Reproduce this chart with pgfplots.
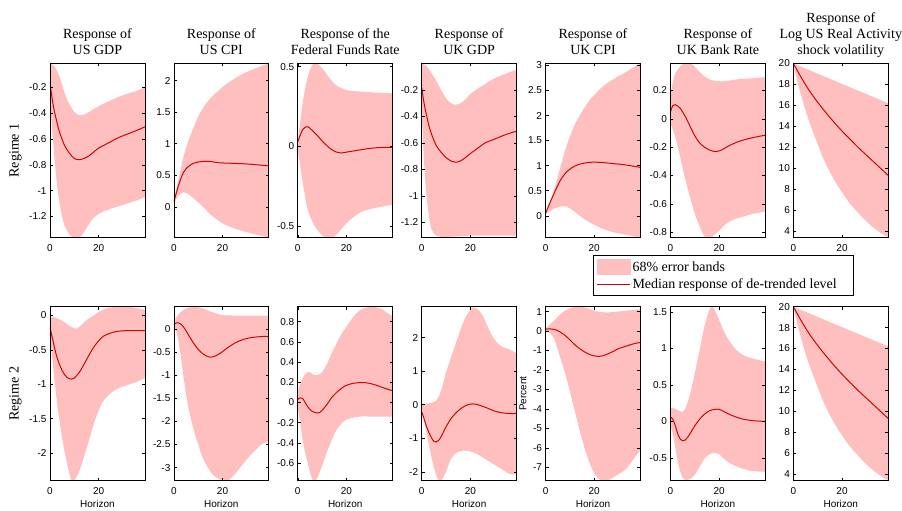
\documentclass[border=0pt]{standalone}
\usepackage{fontspec}
\setmainfont{Liberation Serif}
\setsansfont{Liberation Sans}
\usepackage{pgfplots}
\pgfplotsset{compat=1.18}
\usepgfplotslibrary{fillbetween}

\definecolor{bandc}{RGB}{255,191,191}
\definecolor{medc}{RGB}{205,5,5}

\pgfplotsset{
  irf/.style={
    scale only axis, width=95pt, anchor=south west,
    xmin=0, xmax=39, xtick={0,20},
    axis on top,
    axis line style={line width=0.7pt},
    tick style={black, line width=0.5pt}, major tick length=3pt,
    ticklabel style={font=\sffamily\fontsize{10}{10}\selectfont},
    /pgf/number format/assume math mode=true,
    xticklabel style={yshift=-3pt},
    scaled y ticks=false,
    yticklabel style={/pgf/number format/fixed},
    title style={font=\rmfamily\fontsize{14}{16}\selectfont, align=center,
      at={(0.5,1)}, anchor=south, inner sep=0pt, yshift=2pt, text depth=0pt},
  },
  toprow/.style={height=175pt},
  botrow/.style={height=174pt},
}

% upper edge, lower edge, median
\newcommand{\band}[3]{%
  \addplot[name path=hi, draw=none, smooth] coordinates {#1};
  \addplot[name path=lo, draw=none, smooth] coordinates {#2};
  \addplot[fill=bandc, draw=none] fill between[of=hi and lo];
  \addplot[medc, line width=1pt, smooth] coordinates {#3};
}

\begin{document}
\begin{tikzpicture}
\path (0,0) rectangle (902pt,511pt);

%%%%%%%%%%%%%%%% Regime 1
\begin{axis}[irf, toprow, at={(50pt,273pt)},
  ymin=-1.365, ymax=-0.01, ytick={-1.2,-1,-0.8,-0.6,-0.4,-0.2},
  title={Response of\\US GDP},
  ylabel={Regime 1},
  ylabel style={at={(axis description cs:-0.363,0.5)}, anchor=center, font=\rmfamily\fontsize{14}{16}\selectfont}]
\band{(0,-0.01)(2,-0.04)(4,-0.12)(6,-0.24)(8,-0.33)(10,-0.39)(12,-0.415)(14,-0.41)(17,-0.38)(20,-0.345)(25,-0.30)(30,-0.26)(35,-0.23)(39,-0.20)}
{(0,-0.3)(1,-0.55)(2,-0.78)(3,-0.97)(4,-1.1)(5,-1.2)(6,-1.27)(8,-1.34)(10,-1.37)(12,-1.37)(14,-1.32)(16,-1.26)(18,-1.21)(21,-1.17)(25,-1.14)(30,-1.11)(35,-1.08)(39,-1.05)}
{(0,-0.16)(1,-0.30)(2,-0.40)(3,-0.48)(4,-0.55)(6,-0.65)(8,-0.71)(10,-0.75)(12,-0.76)(14,-0.75)(16,-0.73)(18,-0.70)(20,-0.67)(24,-0.63)(28,-0.59)(32,-0.56)(36,-0.53)(39,-0.505)}
\end{axis}

\begin{axis}[irf, toprow, at={(174pt,273pt)},
  ymin=-0.49, ymax=2.28, ytick={0,0.5,1,1.5,2},
  title={Response of\\US CPI}]
\band{(0,0.12)(2,0.45)(4,0.80)(6,1.05)(8,1.25)(10,1.43)(12,1.57)(15,1.72)(18,1.83)(21,1.93)(24,2.01)(28,2.10)(32,2.17)(36,2.23)(39,2.28)}
{(0,0.05)(2,0.18)(4,0.23)(6,0.20)(8,0.14)(10,0.07)(12,0.0)(15,-0.12)(18,-0.21)(21,-0.28)(24,-0.33)(28,-0.38)(32,-0.42)(36,-0.46)(39,-0.49)}
{(0,0.08)(2,0.35)(4,0.55)(6,0.64)(8,0.69)(10,0.71)(12,0.72)(15,0.72)(18,0.70)(24,0.69)(30,0.68)(36,0.66)(39,0.65)}
\end{axis}

\begin{axis}[irf, toprow, at={(298pt,273pt)},
  ymin=-0.571, ymax=0.523, ytick={-0.5,0,0.5},
  title={Response of the\\Federal Funds Rate}]
\band{(0,0.03)(1,0.15)(2,0.27)(3,0.36)(4,0.43)(5,0.48)(6,0.51)(7,0.525)(8,0.52)(10,0.49)(12,0.45)(14,0.41)(16,0.38)(18,0.365)(21,0.35)(25,0.345)(30,0.34)(35,0.335)(39,0.333)}
{(0,-0.02)(1,-0.12)(2,-0.22)(3,-0.31)(4,-0.39)(6,-0.47)(8,-0.52)(10,-0.555)(12,-0.575)(14,-0.575)(16,-0.55)(18,-0.515)(20,-0.48)(23,-0.44)(26,-0.41)(30,-0.39)(35,-0.375)(39,-0.365)}
{(0,0.03)(1,0.07)(2,0.105)(3,0.12)(4,0.125)(5,0.115)(6,0.10)(8,0.07)(10,0.035)(12,0.005)(14,-0.02)(16,-0.035)(18,-0.04)(20,-0.035)(24,-0.025)(28,-0.015)(32,-0.008)(36,-0.005)(39,-0.005)}
\end{axis}

\begin{axis}[irf, toprow, at={(422pt,273pt)},
  ymin=-1.316, ymax=0.005, ytick={-1.2,-1,-0.8,-0.6,-0.4,-0.2},
  title={Response of\\UK GDP}]
\band{(0,0.0)(2,-0.02)(4,-0.07)(6,-0.13)(8,-0.2)(10,-0.26)(12,-0.30)(14,-0.31)(16,-0.30)(18,-0.27)(20,-0.23)(23,-0.19)(26,-0.155)(30,-0.11)(34,-0.08)(39,-0.045)}
{(0,-0.35)(1,-0.75)(2,-1.0)(3,-1.15)(4,-1.25)(6,-1.30)(10,-1.31)(20,-1.30)(30,-1.30)(39,-1.30)}
{(0,-0.18)(1,-0.30)(2,-0.39)(3,-0.47)(4,-0.53)(6,-0.62)(8,-0.67)(10,-0.71)(12,-0.735)(14,-0.745)(16,-0.735)(18,-0.71)(20,-0.68)(23,-0.64)(26,-0.60)(30,-0.57)(34,-0.54)(39,-0.51)}
\end{axis}

\begin{axis}[irf, toprow, at={(546pt,273pt)},
  ymin=-0.44, ymax=3.05, ytick={0,0.5,1,1.5,2,2.5,3},
  title={Response of\\UK CPI},
  legend style={at={(axis description cs:0.505,-0.101)}, anchor=north west,
    font=\rmfamily\fontsize{14}{16}\selectfont, draw=black, line width=0.7pt,
    inner xsep=3pt, inner ysep=3.5pt, row sep=2pt},
  legend cell align=left]
\addlegendimage{legend image code/.code={\fill[bandc] (0pt,-7.2pt) rectangle (32.7pt,7.2pt);}}
\addlegendentry{68\% error bands}
\addlegendimage{legend image code/.code={\draw[medc, line width=1pt] (0pt,0pt) -- (32.7pt,0pt);}}
\addlegendentry{Median response of de-trended level\hbox to 12pt{}}
\band{(0,0.05)(2,0.3)(4,0.6)(6,0.95)(8,1.3)(10,1.58)(12,1.82)(15,2.08)(18,2.3)(21,2.46)(24,2.6)(28,2.73)(32,2.84)(36,2.96)(39,3.05)}
{(0,0.03)(2,0.10)(4,0.15)(6,0.18)(8,0.19)(10,0.15)(12,0.08)(14,0.0)(17,-0.1)(20,-0.18)(24,-0.27)(28,-0.33)(32,-0.37)(36,-0.41)(39,-0.44)}
{(0,0.05)(2,0.28)(4,0.50)(6,0.70)(8,0.84)(10,0.93)(12,0.99)(14,1.03)(17,1.06)(20,1.07)(24,1.06)(28,1.04)(32,1.02)(36,0.99)(39,0.965)}
\end{axis}

\begin{axis}[irf, toprow, at={(671pt,273pt)},
  ymin=-0.84, ymax=0.395, ytick={-0.8,-0.6,-0.4,-0.2,0,0.2},
  title={Response of\\UK Bank Rate}]
\band{(0,0.16)(1,0.26)(2,0.32)(4,0.37)(6,0.395)(8,0.395)(10,0.37)(12,0.33)(14,0.30)(16,0.28)(18,0.27)(21,0.265)(24,0.27)(28,0.28)(32,0.285)(36,0.29)(39,0.295)}
{(0,-0.03)(2,-0.13)(4,-0.27)(6,-0.42)(8,-0.55)(10,-0.67)(12,-0.76)(14,-0.83)(16,-0.845)(18,-0.82)(20,-0.79)(23,-0.74)(26,-0.71)(30,-0.69)(34,-0.67)(39,-0.655)}
{(0,0.05)(1,0.095)(2,0.10)(3,0.09)(4,0.075)(6,0.02)(8,-0.05)(10,-0.12)(12,-0.17)(14,-0.20)(16,-0.22)(18,-0.23)(19,-0.23)(21,-0.22)(24,-0.19)(28,-0.16)(32,-0.14)(36,-0.125)(39,-0.115)}
\end{axis}

\begin{axis}[irf, toprow, at={(794pt,273pt)},
  ymin=3.35, ymax=20.05, ytick={4,6,8,10,12,14,16,18,20},
  title={Response of\\Log US Real Activity\\shock volatility}]
\band{(0,20)(39,16.2)}
{(0,20)(2,18.0)(4,16.3)(6,14.8)(8,13.5)(10,12.3)(12,11.1)(14,10.1)(16,9.2)(18,8.4)(20,7.7)(23,6.7)(26,5.9)(29,5.15)(32,4.5)(35,3.95)(39,3.36)}
{(0,20)(3,18.75)(6,17.6)(9,16.6)(12,15.7)(15,14.85)(18,14.05)(21,13.3)(24,12.6)(27,11.9)(30,11.25)(33,10.6)(36,9.95)(39,9.3)}
\end{axis}

%%%%%%%%%%%%%%%% Regime 2
\begin{axis}[irf, botrow, at={(50pt,30pt)},
  ymin=-2.40, ymax=0.126, ytick={-2,-1.5,-1,-0.5,0},
  ylabel={Regime 2},
  ylabel style={at={(axis description cs:-0.363,0.5)}, anchor=center, font=\rmfamily\fontsize{14}{16}\selectfont},
  xlabel={Horizon},
  xlabel style={at={(axis description cs:0.5,-0.132)}, anchor=center, font=\sffamily\fontsize{10}{12}\selectfont}]
\band{(0,-0.02)(2,-0.03)(4,-0.06)(6,-0.10)(8,-0.15)(10,-0.19)(11,-0.19)(13,-0.14)(15,-0.07)(18,0.0)(21,0.07)(24,0.11)(27,0.125)(30,0.13)(34,0.12)(39,0.08)}
{(0,-0.3)(1,-0.65)(2,-0.98)(3,-1.3)(4,-1.55)(5,-1.78)(6,-1.98)(7,-2.15)(8,-2.3)(9,-2.42)(10,-2.4)(12,-2.27)(14,-2.05)(16,-1.82)(18,-1.58)(20,-1.38)(22,-1.24)(25,-1.13)(28,-1.06)(32,-1.01)(36,-0.96)(39,-0.91)}
{(0,-0.17)(1,-0.33)(2,-0.49)(3,-0.62)(4,-0.72)(5,-0.80)(6,-0.86)(7,-0.90)(8,-0.92)(9,-0.925)(10,-0.91)(12,-0.83)(14,-0.71)(16,-0.58)(18,-0.46)(20,-0.37)(22,-0.30)(25,-0.255)(28,-0.23)(32,-0.22)(36,-0.22)(39,-0.22)}
\end{axis}

\begin{axis}[irf, botrow, at={(174pt,30pt)},
  ymin=-3.28, ymax=0.48, ytick={-3,-2.5,-2,-1.5,-1,-0.5,0},
  xlabel={Horizon},
  xlabel style={at={(axis description cs:0.5,-0.132)}, anchor=center, font=\sffamily\fontsize{10}{12}\selectfont}]
\band{(0,0.18)(2,0.32)(4,0.41)(6,0.46)(8,0.48)(10,0.47)(12,0.44)(14,0.40)(17,0.34)(20,0.30)(25,0.29)(30,0.29)(35,0.29)(39,0.29)}
{(0,0.1)(1,-0.05)(2,-0.3)(3,-0.65)(4,-1.05)(5,-1.4)(6,-1.7)(8,-2.15)(10,-2.5)(12,-2.8)(14,-3.0)(16,-3.15)(18,-3.23)(20,-3.29)(22,-3.29)(24,-3.2)(26,-3.08)(28,-2.95)(30,-2.82)(33,-2.65)(36,-2.5)(39,-2.43)}
{(0,0.1)(1,0.13)(2,0.13)(3,0.1)(4,0.04)(5,-0.04)(6,-0.13)(8,-0.30)(10,-0.44)(12,-0.54)(14,-0.60)(15,-0.61)(16,-0.605)(18,-0.56)(20,-0.49)(22,-0.41)(24,-0.34)(26,-0.28)(29,-0.22)(32,-0.185)(36,-0.165)(39,-0.16)}
\end{axis}

\begin{axis}[irf, botrow, at={(298pt,30pt)},
  ymin=-0.775, ymax=0.948, ytick={-0.6,-0.4,-0.2,0,0.2,0.4,0.6,0.8},
  xlabel={Horizon},
  xlabel style={at={(axis description cs:0.5,-0.132)}, anchor=center, font=\sffamily\fontsize{10}{12}\selectfont}]
\band{(0,0.1)(1,0.18)(2,0.24)(3,0.28)(4,0.30)(5,0.30)(6,0.28)(8,0.27)(10,0.30)(12,0.38)(14,0.49)(16,0.59)(18,0.68)(20,0.75)(22,0.82)(24,0.88)(26,0.92)(28,0.94)(31,0.95)(34,0.93)(36,0.90)(39,0.85)}
{(0,-0.05)(1,-0.2)(2,-0.37)(3,-0.49)(4,-0.59)(5,-0.69)(6,-0.76)(7,-0.78)(8,-0.75)(10,-0.63)(12,-0.49)(14,-0.37)(16,-0.27)(18,-0.21)(20,-0.17)(23,-0.15)(26,-0.14)(30,-0.14)(35,-0.14)(39,-0.14)}
{(0,0.03)(1,0.045)(2,0.04)(3,0.0)(4,-0.04)(5,-0.07)(6,-0.09)(7,-0.10)(8,-0.105)(9,-0.10)(10,-0.08)(12,-0.02)(14,0.05)(16,0.10)(18,0.14)(20,0.17)(23,0.19)(26,0.197)(28,0.195)(31,0.18)(34,0.155)(37,0.13)(39,0.115)}
\end{axis}

\begin{axis}[irf, botrow, at={(422pt,30pt)},
  ymin=-2.26, ymax=2.92, ytick={-2,-1,0,1,2},
  xlabel={Horizon},
  xlabel style={at={(axis description cs:0.5,-0.132)}, anchor=center, font=\sffamily\fontsize{10}{12}\selectfont}]
\band{(0,0.0)(2,0.03)(4,0.06)(6,0.12)(7,0.25)(8,0.42)(10,0.95)(12,1.4)(14,1.82)(16,2.25)(18,2.6)(20,2.83)(21,2.9)(23,2.85)(25,2.66)(27,2.35)(29,2.05)(31,1.85)(33,1.73)(36,1.65)(39,1.53)}
{(0,-0.05)(1,-0.45)(2,-0.85)(3,-1.2)(4,-1.55)(5,-1.85)(6,-2.1)(7,-2.25)(8,-2.25)(9,-2.15)(10,-2.0)(11,-1.8)(12,-1.62)(14,-1.45)(16,-1.38)(18,-1.37)(20,-1.39)(22,-1.44)(24,-1.52)(26,-1.61)(28,-1.7)(30,-1.79)(32,-1.88)(34,-1.97)(36,-2.06)(38,-2.08)(39,-2.05)}
{(0,-0.2)(1,-0.42)(2,-0.65)(3,-0.83)(4,-0.98)(5,-1.09)(6,-1.11)(7,-1.06)(8,-0.95)(10,-0.66)(12,-0.42)(14,-0.25)(16,-0.12)(18,-0.03)(20,0.02)(22,0.02)(24,-0.02)(27,-0.1)(30,-0.19)(33,-0.24)(36,-0.26)(39,-0.26)}
\end{axis}

\begin{axis}[irf, botrow, at={(546pt,30pt)},
  ymin=-7.68, ymax=1.25, ytick={-7,-6,-5,-4,-3,-2,-1,0,1},
  ylabel={Percent},
  ylabel style={at={(axis description cs:-0.237,0.5)}, anchor=center, font=\sffamily\fontsize{10}{12}\selectfont},
  xlabel={Horizon},
  xlabel style={at={(axis description cs:0.5,-0.132)}, anchor=center, font=\sffamily\fontsize{10}{12}\selectfont}]
\band{(0,0.15)(2,0.35)(4,0.6)(6,0.85)(8,1.05)(10,1.17)(12,1.24)(14,1.25)(16,1.22)(18,1.14)(20,1.05)(22,0.99)(25,0.96)(28,0.98)(32,1.03)(36,1.08)(39,1.12)}
{(0,0.05)(2,-0.12)(3,-0.28)(4,-0.55)(6,-1.35)(8,-2.15)(10,-3.1)(12,-4.1)(14,-5.1)(16,-6.0)(18,-6.75)(20,-7.3)(22,-7.6)(24,-7.7)(26,-7.65)(28,-7.5)(30,-7.35)(32,-7.2)(34,-6.95)(36,-6.6)(39,-6.1)}
{(0,0.1)(2,0.11)(4,0.07)(6,-0.05)(8,-0.22)(10,-0.45)(12,-0.7)(14,-0.9)(16,-1.07)(18,-1.2)(20,-1.27)(22,-1.3)(24,-1.25)(26,-1.15)(28,-1.03)(30,-0.9)(33,-0.78)(36,-0.66)(39,-0.58)}
\end{axis}

\begin{axis}[irf, botrow, at={(671pt,30pt)},
  ymin=-0.81, ymax=1.57, ytick={-0.5,0,0.5,1,1.5},
  xlabel={Horizon},
  xlabel style={at={(axis description cs:0.5,-0.132)}, anchor=center, font=\sffamily\fontsize{10}{12}\selectfont}]
\band{(0,0.17)(1,0.19)(2,0.17)(4,0.14)(5,0.13)(6,0.17)(7,0.26)(8,0.37)(10,0.66)(12,0.98)(14,1.3)(16,1.53)(17,1.57)(18,1.54)(20,1.39)(22,1.23)(24,1.11)(26,1.02)(28,0.95)(31,0.89)(35,0.85)(39,0.82)}
{(0,-0.05)(1,-0.18)(2,-0.36)(3,-0.55)(4,-0.68)(5,-0.77)(6,-0.8)(8,-0.79)(10,-0.73)(12,-0.62)(14,-0.51)(16,-0.45)(18,-0.43)(20,-0.45)(23,-0.54)(26,-0.6)(30,-0.65)(34,-0.68)(39,-0.69)}
{(0,0.06)(1,0.03)(2,-0.06)(3,-0.17)(4,-0.24)(5,-0.265)(6,-0.255)(7,-0.22)(8,-0.17)(10,-0.06)(12,0.03)(14,0.1)(16,0.145)(18,0.165)(20,0.165)(22,0.135)(24,0.1)(27,0.06)(30,0.03)(34,0.01)(39,0.0)}
\end{axis}

\begin{axis}[irf, botrow, at={(794pt,30pt)},
  ymin=3.36, ymax=20.0, ytick={4,6,8,10,12,14,16,18,20},
  xlabel={Horizon},
  xlabel style={at={(axis description cs:0.5,-0.132)}, anchor=center, font=\sffamily\fontsize{10}{12}\selectfont}]
\band{(0,20)(39,16.2)}
{(0,20)(2,18.0)(4,16.3)(6,14.8)(8,13.5)(10,12.3)(12,11.1)(14,10.1)(16,9.2)(18,8.4)(20,7.7)(23,6.7)(26,5.9)(29,5.15)(32,4.5)(35,3.95)(39,3.36)}
{(0,20)(3,18.75)(6,17.6)(9,16.6)(12,15.7)(15,14.85)(18,14.05)(21,13.3)(24,12.6)(27,11.9)(30,11.25)(33,10.6)(36,9.95)(39,9.3)}
\end{axis}
\end{tikzpicture}
\end{document}
